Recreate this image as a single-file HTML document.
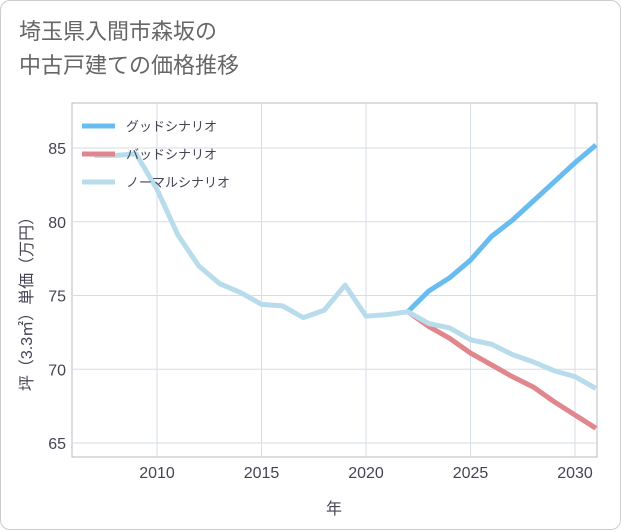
<!DOCTYPE html>
<html><head><meta charset="utf-8"><style>
body{margin:0;background:#fff;}
#wrap{position:relative;width:619px;height:528px;border:1px solid #ccc;border-radius:10px;background:#fff;overflow:hidden;font-family:"Liberation Sans","Noto Sans CJK JP",sans-serif;}
#title{position:absolute;left:18px;top:14px;font-size:22px;line-height:34px;color:#666;}
</style></head><body>
<div id="wrap">
<div id="title">埼玉県入間市森坂の<br>中古戸建ての価格推移</div>
<svg id="chart" width="621" height="530" style="position:absolute;left:-1px;top:-1px"></svg>
</div>
<script>
const years=[2007,2008,2009,2010,2011,2012,2013,2014,2015,2016,2017,2018,2019,2020,2021,2022,2023,2024,2025,2026,2027,2028,2029,2030,2031];
const normalVals=[84.5,84.5,84.6,82.2,79.1,77.0,75.8,75.2,74.4,74.3,73.5,74.0,75.7,73.6,73.7,73.9,73.1,72.8,72.0,71.7,71.0,70.5,69.9,69.5,68.7];
const goodYears=[2022,2023,2024,2025,2026,2027,2028,2029,2030,2031];
const goodVals=[73.9,75.3,76.2,77.4,79.0,80.1,81.4,82.7,84.0,85.2];
const badVals=[73.9,72.9,72.1,71.1,70.3,69.5,68.8,67.8,66.9,66.0];
const xTicks=[2010,2015,2020,2025,2030];
const yTicks=[65,70,75,80,85];
const L=72,R=597,T=103,B=457;
const x=v=>157+(v-2010)*20.9;
const y=v=>148+(85-v)*14.75;
const svg=document.getElementById('chart');
const NS='http://www.w3.org/2000/svg';
function mk(t,a){const e=document.createElementNS(NS,t);for(const k in a)e.setAttribute(k,a[k]);svg.appendChild(e);return e;}
let e=mk('rect',{x:L,y:T,width:R-L,height:B-T,fill:'#fff',stroke:'#bbb'});


xTicks.forEach(t=>{
 let g=mk('line',{x1:x(t),x2:x(t),y1:T,y2:B,stroke:'#d5dde5'});
 
 
 let s=mk('text',{x:x(t),y:478,'text-anchor':'middle','font-size':16,fill:'#445'});s.textContent=t;
 
 
});
yTicks.forEach(t=>{
 let g=mk('line',{x1:L,x2:R,y1:y(t),y2:y(t),stroke:'#d5dde5'});
 
 
 let s=mk('text',{x:66,y:y(t)+6,'text-anchor':'end','font-size':16,fill:'#445'});s.textContent=t;
 
 
});
let xt=mk('text',{x:334,y:514,'text-anchor':'middle','font-size':16,fill:'#445'});xt.textContent='年';


let yt=mk('text',{x:0,y:0,'text-anchor':'middle','font-size':16,fill:'#445',transform:'translate(32,300) rotate(-90)'});yt.textContent='坪（3.3㎡）単価（万円）';


function line(xs,vs,c,n){
 const p=mk('polyline',{points:xs.map((v,i)=>x(v)+','+y(vs[i])).join(' '),fill:'none',stroke:c,'stroke-width':5,'stroke-linejoin':'round'});
 
 
}
line(goodYears,badVals,'#e0868c','bad-scenario-line');
line(goodYears,goodVals,'#68bcf0','good-scenario-line');
line(years,normalVals,'#b9dcec','normal-scenario-line');
const leg=[['グッドシナリオ','#68bcf0'],['バッドシナリオ','#e0868c'],['ノーマルシナリオ','#b9dcec']];
leg.forEach((l,i)=>{
 const yy=126+i*28;
 let m=mk('line',{x1:82,x2:115,y1:yy,y2:yy,stroke:l[1],'stroke-width':5});
 
 
 let s=mk('text',{x:126,y:yy+5,'font-size':13,fill:'#445'});s.textContent=l[0];
 
 
});
</script>
</body></html>
